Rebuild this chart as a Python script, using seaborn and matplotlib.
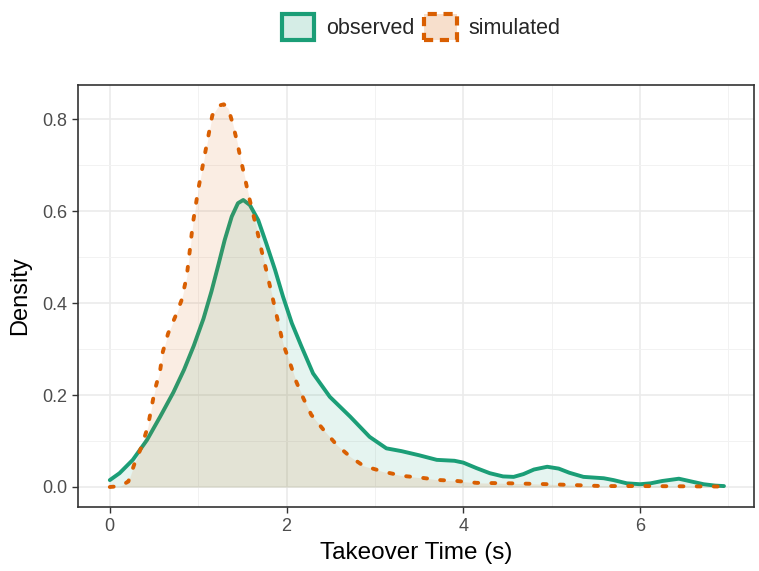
import numpy as np
import pandas as pd
import matplotlib
matplotlib.use("Agg")
import matplotlib.pyplot as plt
from matplotlib.patches import Patch
import seaborn as sns

# ---- data ----
obs_x = [0.00, 0.11, 0.26, 0.42, 0.57, 0.72, 0.84, 0.95, 1.06, 1.15, 1.23, 1.30, 1.38,
         1.45, 1.51, 1.585, 1.68, 1.77, 1.87, 1.96, 2.06, 2.17, 2.30, 2.49, 2.72, 2.94,
         3.13, 3.30, 3.50, 3.70, 3.90, 4.00, 4.15, 4.30, 4.45, 4.57, 4.68, 4.80, 4.95,
         5.08, 5.20, 5.36, 5.59, 5.70, 5.85, 6.00, 6.12, 6.25, 6.44, 6.58, 6.72, 6.85,
         6.95]
obs_y = [0.015, 0.030, 0.059, 0.102, 0.153, 0.206, 0.255, 0.307, 0.366, 0.425, 0.484,
         0.537, 0.588, 0.617, 0.624, 0.613, 0.580, 0.530, 0.472, 0.414, 0.356, 0.305,
         0.247, 0.196, 0.153, 0.109, 0.084, 0.078, 0.069, 0.059, 0.057, 0.053, 0.041,
         0.030, 0.023, 0.022, 0.028, 0.038, 0.044, 0.040, 0.031, 0.022, 0.019, 0.015,
         0.008, 0.006, 0.008, 0.013, 0.018, 0.012, 0.006, 0.003, 0.002]

sim_x = [0.00, 0.12, 0.21, 0.28, 0.36, 0.43, 0.51, 0.57, 0.60, 0.66, 0.74, 0.81, 0.87,
         0.91, 0.94, 1.00, 1.05, 1.09, 1.13, 1.16, 1.23, 1.29, 1.34, 1.39, 1.44, 1.48,
         1.53, 1.57, 1.62, 1.67, 1.72, 1.77, 1.82, 1.87, 1.96, 2.04, 2.11, 2.19, 2.28,
         2.42, 2.57, 2.72, 2.87, 3.10, 3.32, 3.53, 3.74, 3.93, 4.15, 4.53, 4.98, 5.58,
         6.00, 6.95]
sim_y = [0.000, 0.002, 0.012, 0.051, 0.088, 0.131, 0.211, 0.254, 0.294, 0.334, 0.370,
         0.405, 0.457, 0.522, 0.573, 0.646, 0.697, 0.738, 0.778, 0.808, 0.829, 0.832,
         0.823, 0.791, 0.751, 0.714, 0.671, 0.635, 0.595, 0.555, 0.512, 0.472, 0.430,
         0.388, 0.312, 0.269, 0.229, 0.193, 0.157, 0.124, 0.091, 0.066, 0.046, 0.033,
         0.024, 0.020, 0.015, 0.013, 0.009, 0.008, 0.006, 0.002, 0.002, 0.001]

series_names = ["observed", "simulated"]
x_ticks = [0, 2, 4, 6]
y_ticks = [0.0, 0.2, 0.4, 0.6, 0.8]
x_label = "Takeover Time (s)"
y_label = "Density"

# ---- style ----
sns.set_theme(style="white")
plt.rcParams['font.family'] = ['Liberation Sans', 'DejaVu Sans']

green = "#1B9E77"
orange = "#D95F02"

fig = plt.figure(figsize=(7.59, 5.71), dpi=100)
ax = fig.add_axes([78/759, 1-507/571, (754-78)/759, (507-85)/571])

df_obs = pd.DataFrame({"x": obs_x, "y": obs_y})
df_sim = pd.DataFrame({"x": sim_x, "y": sim_y})

# grid
ax.set_xticks([1, 3, 5, 7], minor=True)
ax.set_yticks([0.1, 0.3, 0.5, 0.7], minor=True)
ax.grid(which="major", color="#EBEBEB", linewidth=1.2, zorder=0)
ax.grid(which="minor", color="#F2F2F2", linewidth=0.7, zorder=0)
ax.set_axisbelow(True)

# fills + lines
ax.fill_between(df_obs["x"], 0, df_obs["y"], color=green, alpha=0.11, linewidth=0, zorder=2)
sns.lineplot(data=df_obs, x="x", y="y", ax=ax, color=green, linewidth=2.8, sort=False,
             estimator=None, zorder=3)
ax.fill_between(df_sim["x"], 0, df_sim["y"], color=orange, alpha=0.11, linewidth=0, zorder=4)
sns.lineplot(data=df_sim, x="x", y="y", ax=ax, color=orange, linewidth=2.8, sort=False,
             estimator=None, zorder=5)
ax.lines[-1].set_dashes([1.0, 3.4])
ax.lines[-1].set_dash_capstyle("round")
ax.lines[-1].set_solid_joinstyle("round")
ax.lines[-2].set_solid_capstyle("round")
ax.lines[-2].set_solid_joinstyle("round")

ax.set_xlim(-0.36, 7.29)
ax.set_ylim(-0.0435, 0.874)
ax.set_xticks(x_ticks)
ax.set_xticklabels([str(t) for t in x_ticks])
ax.set_yticks(y_ticks)
ax.set_yticklabels([f"{t:.1f}" for t in y_ticks])

for s in ax.spines.values():
    s.set_color("#333333")
    s.set_linewidth(1.2)

ax.tick_params(which="major", direction="out", length=4.5, width=1.0, color="#333333",
               labelsize=13, labelcolor="#4D4D4D", bottom=True, left=True, pad=3.5)
ax.tick_params(which="minor", length=0)

ax.set_xlabel(x_label, fontsize=17.5, color="black", labelpad=5)
ax.set_ylabel(y_label, fontsize=17, color="black", labelpad=8)

handles = [
    Patch(facecolor=(0.106, 0.62, 0.467, 0.18), edgecolor=green, linewidth=3.0, linestyle="-",
          label=series_names[0]),
    Patch(facecolor=(0.851, 0.373, 0.008, 0.2), edgecolor=orange, linewidth=3.0,
          linestyle=(0, (2.2, 1.6)), label=series_names[1]),
]
fig.legend(handles=handles, loc="center", bbox_to_anchor=(0.555, 0.953), ncol=2,
           frameon=False, fontsize=15.5, handlelength=1.5, handleheight=1.5,
           handletextpad=0.55, columnspacing=0.45, borderaxespad=0)

fig.savefig("out.png", dpi=100, facecolor="white")
